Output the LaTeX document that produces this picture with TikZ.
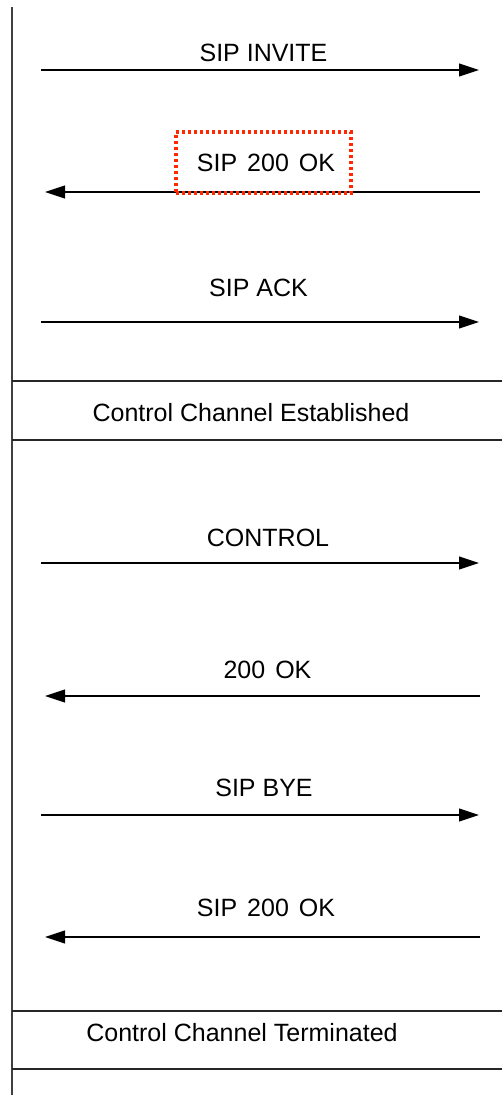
\documentclass[tikz,border=0pt]{standalone}
\usepackage{fontspec}
\setmainfont{Liberation Sans}
\usetikzlibrary{arrows.meta}
\definecolor{hlred}{RGB}{255,40,0}
\newcommand{\gap}{\hspace{0.4em}}
\begin{document}
\begin{tikzpicture}[x=1pt,y=-1pt,
  lbl/.style={inner sep=0pt, font=\fontsize{25}{30}\selectfont},
  msg/.style={line width=1.1pt, draw=black, -{Triangle[length=20pt,width=13pt]}},
  rule/.style={line width=1.1pt, draw=black!85},
  lifeline/.style={line width=1.6pt, draw=black!75},
  hlbox/.style={draw=hlred, line width=3.2pt, dash pattern=on 3pt off 3pt, inner sep=0pt}]
\useasboundingbox (0,0) rectangle (502,1095);
% lifeline
\coordinate (lt) at (12,7);
\coordinate (lb) at (12,1095);
\draw[lifeline] (lt) -- (lb);
% SIP INVITE
\coordinate (m1l) at (41,70); \coordinate (m1r) at (479,70);
\draw[msg] (m1l) -- (m1r);
\node[lbl] (t1) at (263.5,52.5) {SIP INVITE};
% SIP 200 OK (highlighted)
\coordinate (m2l) at (45,192); \coordinate (m2r) at (480,192);
\draw[msg] (m2r) -- (m2l);
\node[hlbox, minimum width=175pt, minimum height=61pt] (hb) at (263.5,162.5) {};
\node[lbl] (t2) at (266,163) {SIP\gap 200\gap OK};
% SIP ACK
\coordinate (m3l) at (41,322); \coordinate (m3r) at (479,322);
\draw[msg] (m3l) -- (m3r);
\node[lbl] (t3) at (258.5,287.5) {SIP ACK};
% Control Channel Established
\coordinate (s1l) at (12,381); \coordinate (s1r) at (502,381);
\coordinate (s2l) at (12,440); \coordinate (s2r) at (502,440);
\draw[rule] (s1l) -- (s1r);
\draw[rule] (s2l) -- (s2r);
\node[lbl] (e1) at (251,413) {Control Channel Established};
% CONTROL
\coordinate (m4l) at (41,563); \coordinate (m4r) at (479,563);
\draw[msg] (m4l) -- (m4r);
\node[lbl] (t4) at (268,537.5) {CONTROL};
% 200 OK
\coordinate (m5l) at (45,696); \coordinate (m5r) at (480,696);
\draw[msg] (m5r) -- (m5l);
\node[lbl] (t5) at (267.5,670) {200\gap OK};
% SIP BYE
\coordinate (m6l) at (41,815); \coordinate (m6r) at (479,815);
\draw[msg] (m6l) -- (m6r);
\node[lbl] (t6) at (264,788) {SIP BYE};
% SIP 200 OK
\coordinate (m7l) at (45,937); \coordinate (m7r) at (480,937);
\draw[msg] (m7r) -- (m7l);
\node[lbl] (t7) at (266,908) {SIP\gap 200\gap OK};
% Control Channel Terminated
\coordinate (s3l) at (12,1011); \coordinate (s3r) at (502,1011);
\coordinate (s4l) at (12,1069); \coordinate (s4r) at (502,1069);
\draw[rule] (s3l) -- (s3r);
\draw[rule] (s4l) -- (s4r);
\node[lbl] (e2) at (242,1033) {Control Channel Terminated};
\end{tikzpicture}
\end{document}
